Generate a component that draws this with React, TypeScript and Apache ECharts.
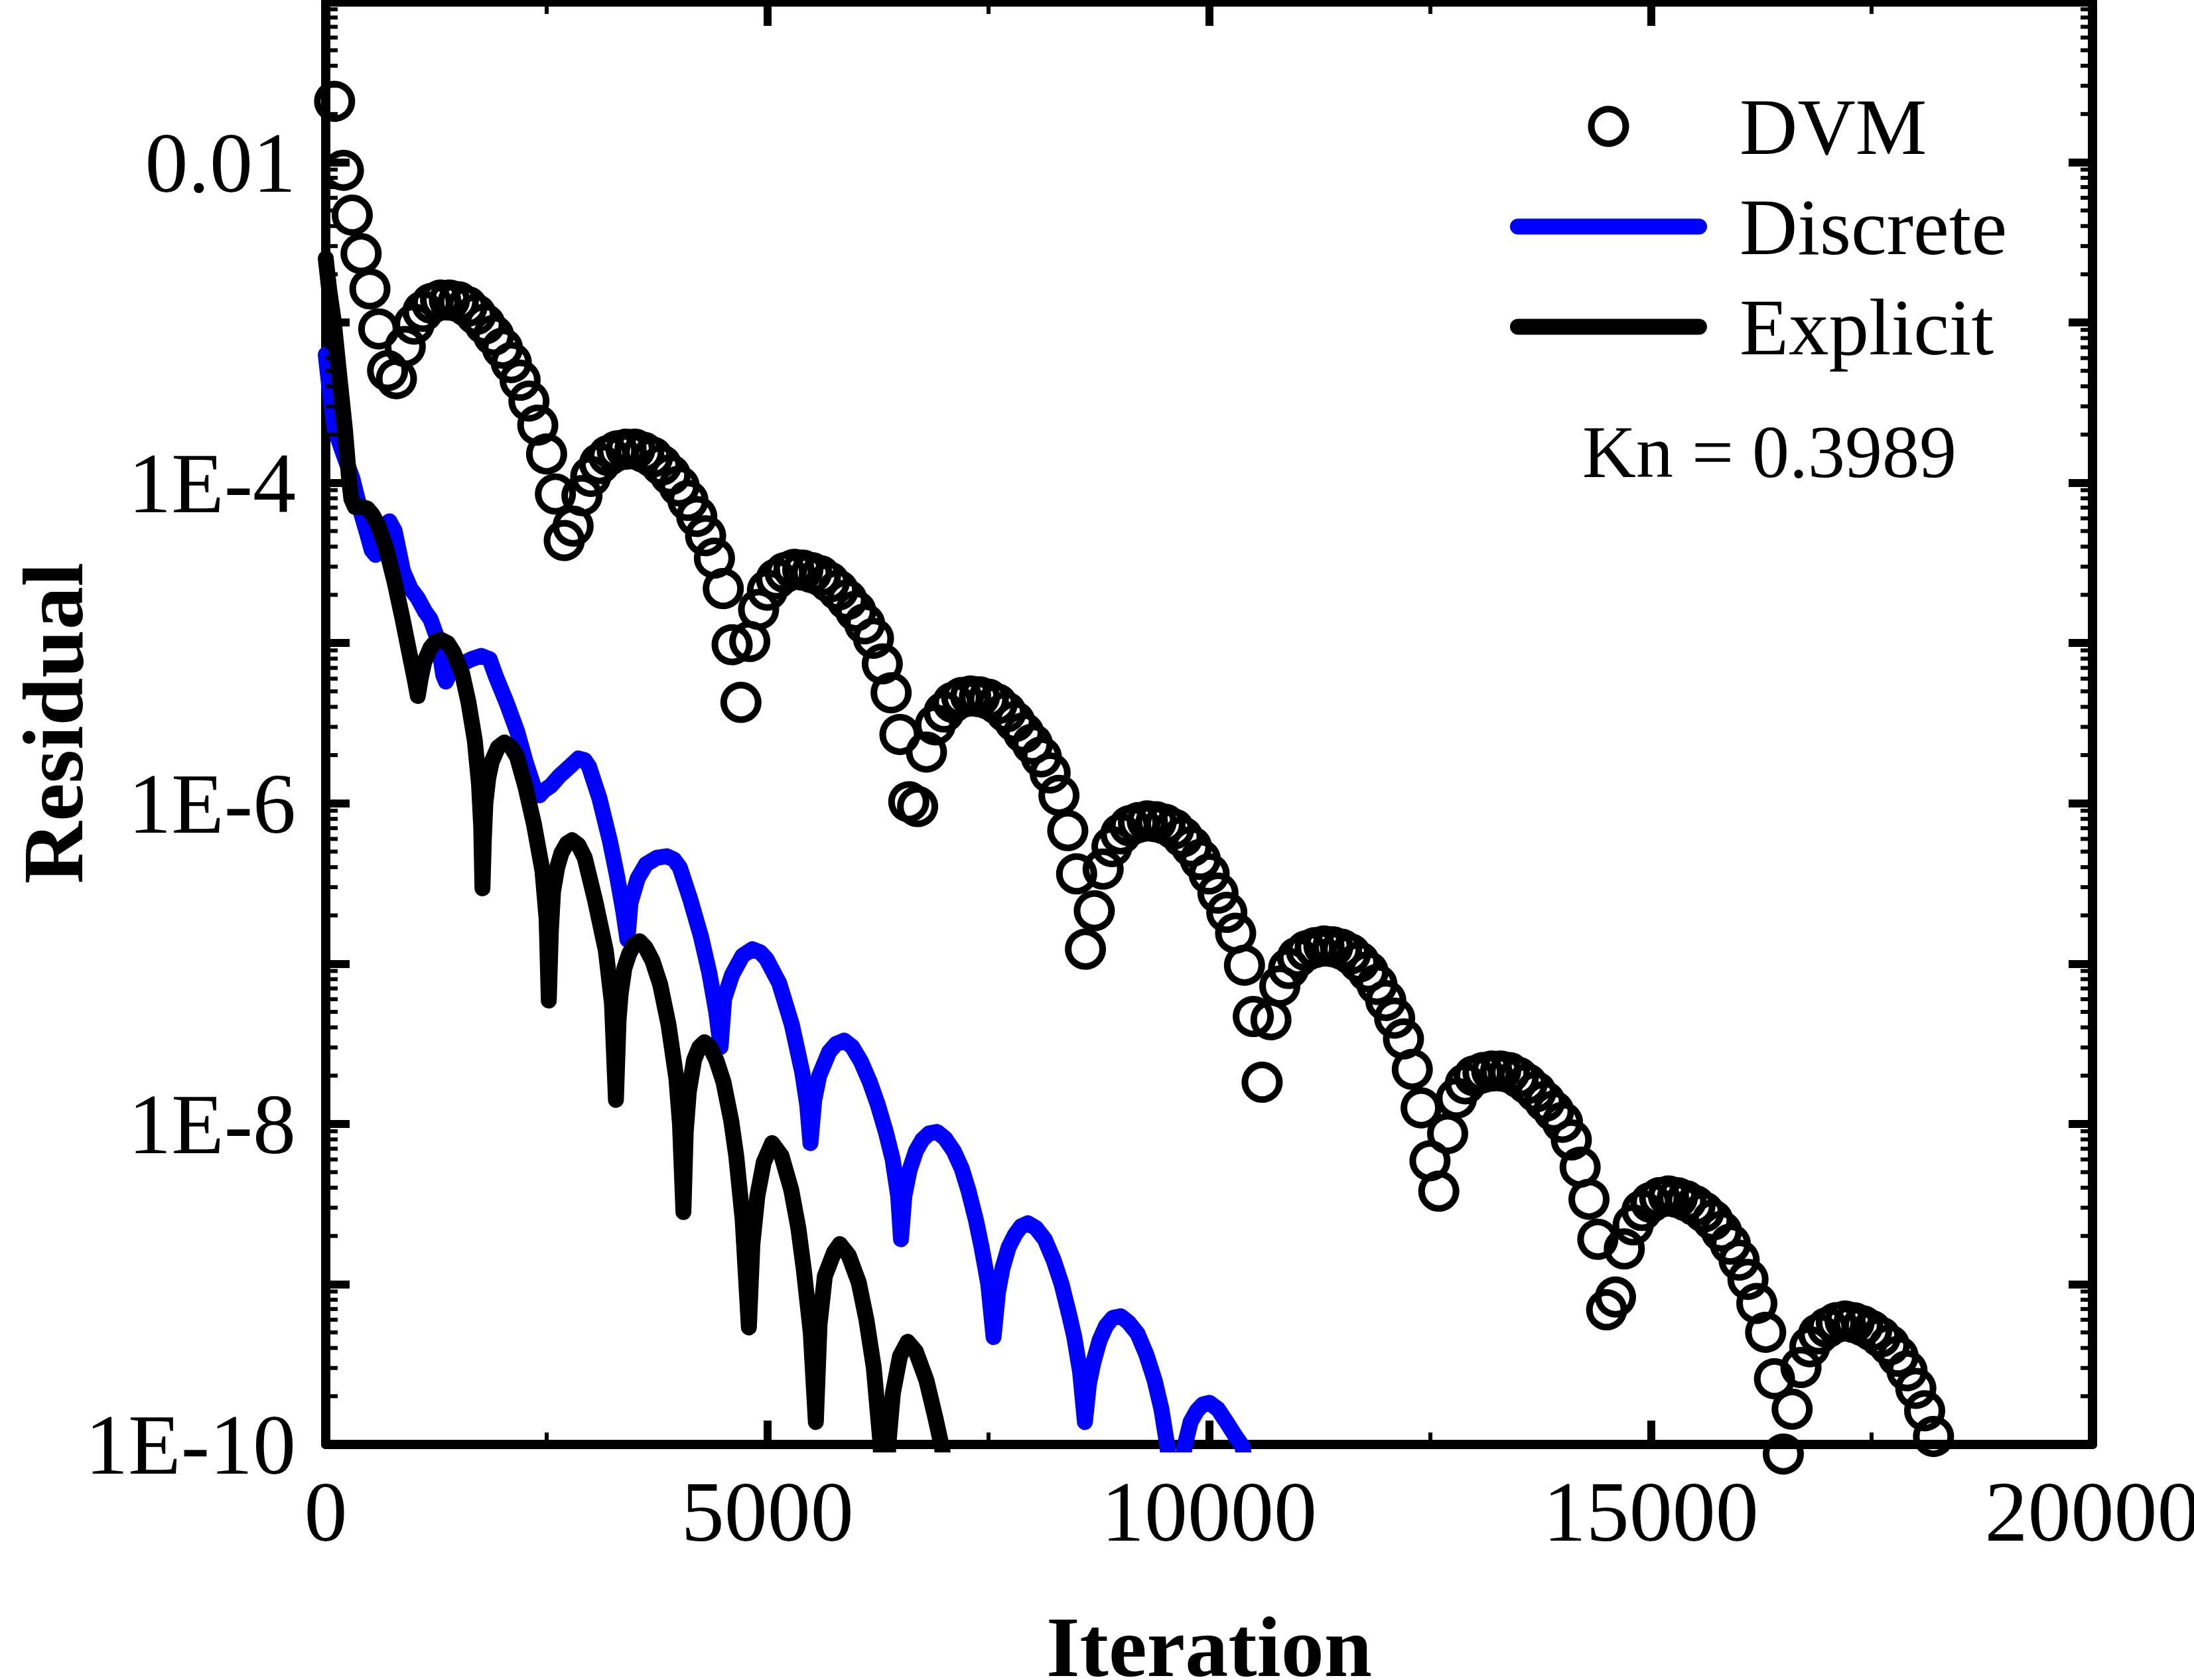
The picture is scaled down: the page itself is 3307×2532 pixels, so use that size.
import React, { useEffect, useRef } from "react";
import * as echarts from "echarts";

// ---- axis tick values / labels ----
const xTickValues = [0, 5000, 10000, 15000, 20000];
const xTickLabels = ["0", "5000", "10000", "15000", "20000"];
const yLabelExponents = [-10, -8, -6, -4, -2];
const yLabelTexts = ["1E-10", "1E-8", "1E-6", "1E-4", "0.01"];
const yDecades = [-10, -9, -8, -7, -6, -5, -4, -3, -2];
const yMinorMultipliers = [2, 3, 4, 5, 6, 7, 8, 9];

// ---- DVM (circles): iteration and log10(residual) ----
const dvmIter = [
  100, 200, 300, 400, 500, 600, 700, 800, 900, 1000,
  1100, 1200, 1300, 1400, 1500, 1600, 1700, 1800, 1900, 2000,
  2100, 2200, 2300, 2400, 2500, 2600, 2700, 2800, 2900, 3000,
  3100, 3200, 3300, 3400, 3500, 3600, 3700, 3800, 3900, 4000,
  4100, 4200, 4300, 4400, 4500, 4600, 4700, 4800, 4900, 5000,
  5100, 5200, 5300, 5400, 5500, 5600, 5700, 5800, 5900, 6000,
  6100, 6200, 6300, 6400, 6500, 6600, 6700, 6800, 6900, 7000,
  7100, 7200, 7300, 7400, 7500, 7600, 7700, 7800, 7900, 8000,
  8100, 8200, 8300, 8400, 8500, 8600, 8700, 8800, 8900, 9000,
  9100, 9200, 9300, 9400, 9500, 9600, 9700, 9800, 9900, 10000,
  10100, 10200, 10300, 10400, 10500, 10600, 10700, 10800, 10900, 11000,
  11100, 11200, 11300, 11400, 11500, 11600, 11700, 11800, 11900, 12000,
  12100, 12200, 12300, 12400, 12500, 12600, 12700, 12800, 12900, 13000,
  13100, 13200, 13300, 13400, 13500, 13600, 13700, 13800, 13900, 14000,
  14100, 14200, 14300, 14400, 14500, 14600, 14700, 14800, 14900, 15000,
  15100, 15200, 15300, 15400, 15500, 15600, 15700, 15800, 15900, 16000,
  16100, 16200, 16300, 16400, 16500, 16600, 16700, 16800, 16900, 17000,
  17100, 17200, 17300, 17400, 17500, 17600, 17700, 17800, 17900, 18000,
  18100, 18200,
];
const dvmLog = [
  -1.62, -2.05, -2.33, -2.57, -2.79, -3.04, -3.3, -3.35, -3.15, -3.01,
  -2.93, -2.88, -2.86, -2.86, -2.87, -2.9, -2.95, -3.01, -3.08, -3.16,
  -3.25, -3.36, -3.49, -3.64, -3.82, -4.07, -4.36, -4.27, -4.08, -3.96,
  -3.88, -3.83, -3.8, -3.79, -3.79, -3.81, -3.84, -3.89, -3.95, -4.02,
  -4.11, -4.21, -4.33, -4.47, -4.66, -5.01, -5.37, -4.99, -4.79, -4.67,
  -4.6, -4.56, -4.54, -4.545, -4.56, -4.58, -4.62, -4.67, -4.73, -4.8,
  -4.88, -4.97, -5.13, -5.31, -5.57, -5.99, -6.02, -5.68, -5.51, -5.43,
  -5.37, -5.34, -5.33, -5.335, -5.35, -5.38, -5.43, -5.49, -5.56, -5.63,
  -5.71, -5.81, -5.95, -6.17, -6.44, -6.91, -6.67, -6.41, -6.27, -6.19,
  -6.14, -6.12, -6.11, -6.115, -6.13, -6.16, -6.21, -6.27, -6.35, -6.44,
  -6.56, -6.68, -6.81, -7.01, -7.33, -7.74, -7.35, -7.14, -7.03, -6.96,
  -6.92, -6.9, -6.89, -6.895, -6.91, -6.94, -6.99, -7.05, -7.13, -7.23,
  -7.34, -7.47, -7.66, -7.9, -8.23, -8.42, -8.06, -7.84, -7.75, -7.7,
  -7.68, -7.67, -7.67, -7.68, -7.71, -7.75, -7.8, -7.86, -7.92, -7.99,
  -8.1, -8.27, -8.47, -8.72, -9.16, -9.08, -8.78, -8.63, -8.54, -8.49,
  -8.46, -8.45, -8.46, -8.48, -8.51, -8.55, -8.6, -8.67, -8.75, -8.85,
  -8.97, -9.12, -9.3, -9.59, -10.06, -9.78, -9.52, -9.39, -9.31, -9.27,
  -9.24, -9.23, -9.24, -9.26, -9.29, -9.33, -9.38, -9.45, -9.54, -9.65,
  -9.79, -9.95,
];

// ---- Discrete (blue line) ----
const discreteIter = [
  0, 40, 100, 200, 300, 396, 470, 520, 565, 610, 660, 720, 780, 874, 960, 1042,
  1120, 1185, 1250, 1290, 1330, 1360, 1410, 1480, 1544, 1650, 1759, 1855, 1927,
  2046, 2166, 2262, 2357, 2420, 2470, 2549, 2644, 2764, 2860, 2930, 2980, 3099,
  3219, 3300, 3370, 3415, 3450, 3530, 3625, 3745, 3860, 3940, 4008, 4127, 4247,
  4343, 4420, 4470, 4510, 4599, 4718, 4830, 4920, 4988, 5132, 5276, 5395, 5450,
  5487, 5530, 5586, 5699, 5780, 5870, 5960, 6058, 6160, 6249, 6340, 6417, 6480,
  6512, 6550, 6608, 6680, 6752, 6830, 6919, 7010, 7110, 7200, 7278, 7360, 7421,
  7500, 7560, 7610, 7661, 7730, 7804, 7870, 7948, 8040, 8139, 8240, 8330, 8420,
  8474, 8540, 8594, 8640, 8689, 8760, 8833, 8910, 9000, 9090, 9191, 9290, 9383,
  9460, 9527, 9620, 9723, 9790, 9861, 9930, 10005, 10100, 10196, 10300, 10376,
  10430,
];
const discreteLog = [
  -3.2, -3.4, -3.66, -3.82, -3.97, -4.18, -4.32, -4.42, -4.45, -4.36, -4.27,
  -4.24, -4.3, -4.55, -4.66, -4.72, -4.8, -4.85, -4.95, -5.05, -5.2, -5.24,
  -5.18, -5.15, -5.13, -5.1, -5.08, -5.1, -5.21, -5.37, -5.55, -5.74, -5.9,
  -5.95, -5.92, -5.89, -5.83, -5.77, -5.72, -5.73, -5.77, -5.97, -6.24, -6.46,
  -6.68, -6.85, -6.62, -6.47, -6.38, -6.34, -6.33, -6.35, -6.4, -6.6, -6.83,
  -7.06, -7.3, -7.52, -7.22, -7.07, -6.95, -6.91, -6.93, -6.97, -7.12, -7.38,
  -7.68, -7.88, -8.12, -7.85, -7.7, -7.55, -7.5, -7.48, -7.52, -7.61, -7.74,
  -7.88, -8.05, -8.22, -8.45, -8.72, -8.45, -8.29, -8.17, -8.1, -8.06, -8.05,
  -8.09, -8.17, -8.28, -8.42, -8.6, -8.76, -9.0, -9.33, -9.05, -8.9, -8.77,
  -8.69, -8.64, -8.62, -8.65, -8.72, -8.85, -9.0, -9.2, -9.33, -9.55, -9.86,
  -9.62, -9.49, -9.35, -9.26, -9.21, -9.2, -9.24, -9.31, -9.44, -9.6, -9.78,
  -10.01, -10.5, -10.01, -9.86, -9.79, -9.75, -9.74, -9.78, -9.86, -9.95,
  -10.01, -10.2,
];

// ---- Explicit (black line) ----
const explicitIter = [
  0, 40, 90, 155, 218, 265, 290, 330, 400, 470, 530, 590, 680, 780, 870, 950,
  1005, 1042, 1075, 1114, 1185, 1245, 1305, 1380, 1448, 1544, 1616, 1688, 1735,
  1760, 1774, 1790, 1807, 1840, 1879, 1950, 2022, 2100, 2166, 2262, 2357, 2453,
  2500, 2525, 2548, 2573, 2620, 2668, 2730, 2788, 2860, 2932, 3051, 3171, 3240,
  3285, 3315, 3338, 3380, 3434, 3490, 3553, 3620, 3697, 3786, 3880, 3970, 4010,
  4049, 4075, 4110, 4170, 4230, 4288, 4350, 4420, 4503, 4590, 4647, 4720, 4790,
  4830, 4886, 4958, 5053, 5160, 5269, 5350, 5412, 5490, 5548, 5590, 5650, 5755,
  5819, 5920, 6034, 6120, 6204, 6281, 6325, 6369, 6420, 6500, 6587, 6680, 6800,
  6900, 6976, 7040,
];
const explicitLog = [
  -2.6, -2.8, -2.99, -3.34, -3.67, -3.98, -4.1, -4.15, -4.15, -4.16, -4.2,
  -4.26, -4.4, -4.62, -4.85, -5.07, -5.22, -5.33, -5.22, -5.12, -5.03, -4.99,
  -4.98, -5.0, -5.06, -5.19, -5.37, -5.61, -5.88, -6.15, -6.53, -6.22, -6.0,
  -5.84, -5.74, -5.65, -5.62, -5.65, -5.71, -5.9, -6.13, -6.42, -6.72, -7.23,
  -6.8, -6.55, -6.4, -6.31, -6.25, -6.23, -6.26, -6.34, -6.61, -6.92, -7.25,
  -7.85, -7.35, -7.19, -7.03, -6.94, -6.88, -6.86, -6.9, -6.98, -7.13, -7.38,
  -7.72, -8.0, -8.55, -8.05, -7.8, -7.6, -7.52, -7.49, -7.52, -7.6, -7.74,
  -7.98, -8.2, -8.6, -9.27, -8.75, -8.45, -8.24, -8.12, -8.2, -8.41, -8.65,
  -8.91, -9.3, -9.86, -9.25, -8.95, -8.8, -8.75, -8.82, -8.99, -9.22, -9.52,
  -10.0, -10.6, -10.0, -9.68, -9.45, -9.36, -9.42, -9.6, -9.83, -10.02, -10.3,
];

const FONT = "Liberation Serif";
const W = 3307;
const H = 2532;

function toPairs(xs: number[], logs: number[]): number[][] {
  return xs.map((x, i) => [x, Math.pow(10, logs[i])]);
}

export default function App() {
  const ref = useRef<HTMLDivElement>(null);

  useEffect(() => {
    document.body.style.margin = "0";
    if (!ref.current) return;
    const chart = echarts.init(ref.current, null, { renderer: "svg" });

    const minorTickData: number[][] = [];
    yDecades.forEach((d) => {
      yMinorMultipliers.forEach((m) => {
        minorTickData.push([0, m * Math.pow(10, d)]);
      });
    });

    const yLabelFormatter = (v: number) => {
      const e = Math.round(Math.log10(v));
      const idx = yLabelExponents.indexOf(e);
      return idx >= 0 ? yLabelTexts[idx] : "";
    };
    const xLabelFormatter = (v: number) => {
      const idx = xTickValues.indexOf(Math.round(v));
      return idx >= 0 ? xTickLabels[idx] : "";
    };

    const axisLine = { show: true, onZero: false, lineStyle: { color: "#000", width: 14 } };
    const majorTick = { show: true, inside: true, length: 36, lineStyle: { color: "#000", width: 12 } };
    const xMinorTick = { show: true, splitNumber: 2, length: 18, lineStyle: { color: "#000", width: 6 } };
    const hiddenSymbol = { color: "rgba(0,0,0,0)", borderWidth: 0, opacity: 0 };

    const option: any = {
      animation: false,
      backgroundColor: "#ffffff",
      grid: {
        left: 491,
        right: 153,
        top: 3,
        bottom: 355,
        containLabel: false,
        outerBoundsMode: "none",
      },
      xAxis: [
        {
          type: "value",
          min: 0,
          max: 20000,
          interval: 5000,
          position: "bottom",
          axisLine,
          axisTick: majorTick,
          minorTick: xMinorTick,
          splitLine: { show: false },
          axisLabel: {
            show: true,
            interval: 0,
            margin: 36,
            fontSize: 130,
            fontFamily: FONT,
            color: "#000",
            formatter: xLabelFormatter,
          },
          name: "Iteration",
          nameLocation: "middle",
          nameGap: 240,
          nameMoveOverlap: false,
          nameTextStyle: { fontSize: 130, fontWeight: "bold", fontFamily: FONT, color: "#000" },
        },
        {
          type: "value",
          min: 0,
          max: 20000,
          interval: 5000,
          position: "top",
          axisLine,
          axisTick: majorTick,
          minorTick: xMinorTick,
          splitLine: { show: false },
          axisLabel: { show: false },
        },
      ],
      yAxis: [
        {
          type: "log",
          logBase: 10,
          min: 1e-10,
          max: 1e-1,
          interval: 1,
          position: "left",
          axisLine,
          axisTick: majorTick,
          splitLine: { show: false },
          axisLabel: {
            show: true,
            interval: 0,
            margin: 45,
            fontSize: 130,
            fontFamily: FONT,
            color: "#000",
            formatter: yLabelFormatter,
          },
          name: "Residual",
          nameLocation: "middle",
          nameGap: 346,
          nameMoveOverlap: false,
          nameTextStyle: { fontSize: 130, fontWeight: "bold", fontFamily: FONT, color: "#000" },
        },
        {
          type: "log",
          logBase: 10,
          min: 1e-10,
          max: 1e-1,
          interval: 1,
          position: "right",
          axisLine,
          axisTick: majorTick,
          splitLine: { show: false },
          axisLabel: { show: false },
        },
      ],
      legend: {
        data: [
          { name: "DVM" },
          { name: "Discrete", itemStyle: hiddenSymbol },
          { name: "Explicit", itemStyle: hiddenSymbol },
        ],
        orient: "vertical",
        left: 2271,
        top: 125,
        itemWidth: 273,
        itemHeight: 52,
        itemGap: 30,
        itemStyle: { borderWidth: 10, borderColor: "#000" },
        lineStyle: { width: 24, cap: "round", opacity: 1 },
        textStyle: {
          fontSize: 121,
          fontFamily: FONT,
          color: "#000",
          padding: [0, 0, 0, 56],
        },
        selectedMode: false,
      },
      graphic: [
        {
          type: "text",
          x: 2385,
          y: 681,
          style: {
            text: "Kn = 0.3989",
            fontSize: 112,
            fontFamily: FONT,
            fill: "#000",
            verticalAlign: "middle",
          },
        },
      ],
      series: [
        {
          name: "DVM",
          type: "scatter",
          xAxisIndex: 0,
          yAxisIndex: 0,
          data: toPairs(dvmIter, dvmLog),
          symbol: "circle",
          symbolSize: 52,
          clip: false,
          itemStyle: { color: "rgba(0,0,0,0)", borderColor: "#000", borderWidth: 10, opacity: 1 },
          z: 3,
        },
        {
          name: "Discrete",
          type: "line",
          xAxisIndex: 0,
          yAxisIndex: 0,
          data: toPairs(discreteIter, discreteLog),
          symbol: "none",
          showSymbol: false,
          smooth: false,
          clip: true,
          color: "#0000ff",
          lineStyle: { color: "#0000ff", width: 24, cap: "round", join: "round" },
          z: 4,
        },
        {
          name: "Explicit",
          type: "line",
          xAxisIndex: 0,
          yAxisIndex: 0,
          data: toPairs(explicitIter, explicitLog),
          symbol: "none",
          showSymbol: false,
          smooth: false,
          clip: true,
          color: "#000000",
          lineStyle: { color: "#000000", width: 24, cap: "round", join: "round" },
          z: 5,
        },
        {
          name: "yMinorTicks",
          type: "custom",
          xAxisIndex: 0,
          yAxisIndex: 0,
          silent: true,
          clip: false,
          z: 6,
          data: minorTickData,
          encode: { x: 0, y: 1 },
          renderItem: (params: any, api: any) => {
            const v = api.value(1);
            const pl = api.coord([0, v]);
            const pr = api.coord([20000, v]);
            return {
              type: "group",
              children: [
                {
                  type: "line",
                  shape: { x1: pl[0], y1: pl[1], x2: pl[0] + 18, y2: pl[1] },
                  style: { stroke: "#000", lineWidth: 6 },
                },
                {
                  type: "line",
                  shape: { x1: pr[0] - 18, y1: pr[1], x2: pr[0], y2: pr[1] },
                  style: { stroke: "#000", lineWidth: 6 },
                },
              ],
            };
          },
        },
      ],
    };

    chart.setOption(option);
    return () => {
      chart.dispose();
    };
  }, []);

  return (
    <div
      ref={ref}
      style={{ position: "fixed", left: 0, top: 0, width: W, height: H, background: "#fff" }}
    />
  );
}
